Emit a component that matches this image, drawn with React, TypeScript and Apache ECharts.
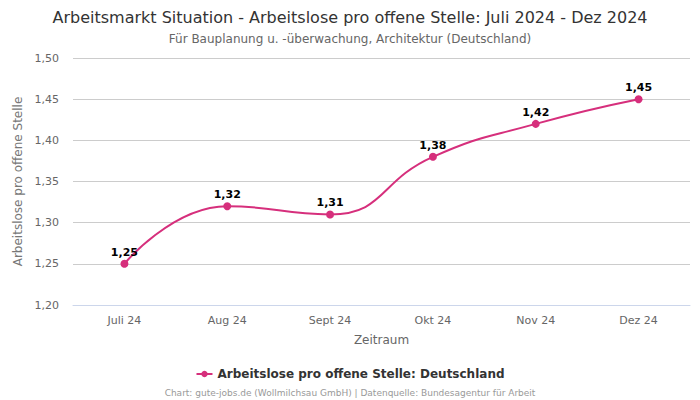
import React, { useEffect, useRef } from "react";
import * as echarts from "echarts";

const categories = ["Juli 24", "Aug 24", "Sept 24", "Okt 24", "Nov 24", "Dez 24"];
const values = [1.25, 1.32, 1.31, 1.38, 1.42, 1.45];
const seriesName = "Arbeitslose pro offene Stelle: Deutschland";
const titleText = "Arbeitsmarkt Situation - Arbeitslose pro offene Stelle: Juli 2024 - Dez 2024";
const subtitleText = "Für Bauplanung u. -überwachung, Architektur (Deutschland)";
const footerText = "Chart: gute-jobs.de (Wollmilchsau GmbH) | Datenquelle: Bundesagentur für Arbeit";

const fmt = (v: number) => v.toFixed(2).replace(".", ",");
const FONT = "DejaVu Sans";

export default function App() {
  const ref = useRef<HTMLDivElement>(null);
  useEffect(() => {
    const chart = echarts.init(ref.current!, null, { renderer: "svg" });
    chart.setOption({
      animation: false,
      textStyle: { fontFamily: FONT },
      title: [
        {
          text: titleText,
          left: "center",
          top: 4,
          textStyle: { fontSize: 16, fontWeight: "normal", color: "#333", fontFamily: FONT },
        },
        {
          text: subtitleText,
          left: "center",
          top: 28,
          textStyle: { fontSize: 12, fontWeight: "normal", color: "#666", fontFamily: FONT },
        },
        {
          text: footerText,
          left: "center",
          top: 383,
          textStyle: { fontSize: 9, fontWeight: "normal", color: "#999", fontFamily: FONT },
        },
      ],
      legend: {
        data: [seriesName],
        top: 363,
        left: "center",
        itemWidth: 16,
        itemHeight: 8,
        textStyle: { fontSize: 12, fontWeight: "bold", color: "#333", fontFamily: FONT },
      },
      grid: { left: 73, right: 10, top: 58, bottom: 95 },
      xAxis: {
        type: "category",
        data: categories,
        boundaryGap: true,
        name: "Zeitraum",
        nameLocation: "middle",
        nameGap: 29,
        nameTextStyle: { fontSize: 12, color: "#666", fontFamily: FONT },
        axisLine: { lineStyle: { color: "#ccd6eb" } },
        axisTick: { show: false },
        axisLabel: { fontSize: 11, color: "#666", margin: 10, fontFamily: FONT },
      },
      yAxis: {
        type: "value",
        min: 1.2,
        max: 1.5,
        interval: 0.05,
        name: "Arbeitslose pro offene Stelle",
        nameLocation: "middle",
        nameGap: 46,
        nameTextStyle: { fontSize: 12, color: "#777", fontFamily: FONT },
        axisLabel: { fontSize: 11, color: "#666", formatter: (v: number) => fmt(v), margin: 14, fontFamily: FONT },
        splitLine: { lineStyle: { color: "#ccc" } },
        axisLine: { show: false },
        axisTick: { show: false },
      },
      series: [
        {
          name: seriesName,
          type: "line",
          data: values,
          smooth: 0.5,
          symbol: "circle",
          symbolSize: 8,
          itemStyle: { color: "#d62f7c" },
          lineStyle: { color: "#d62f7c", width: 2 },
          label: {
            show: true,
            position: "top",
            distance: 2,
            formatter: (p: any) => fmt(p.value),
            fontSize: 11,
            fontWeight: "bold",
            color: "#000",
            fontFamily: FONT,
          },
        },
      ],
    });
    return () => chart.dispose();
  }, []);
  return <div ref={ref} style={{ width: 700, height: 400, position: "absolute", left: 0, top: 0 }} />;
}
